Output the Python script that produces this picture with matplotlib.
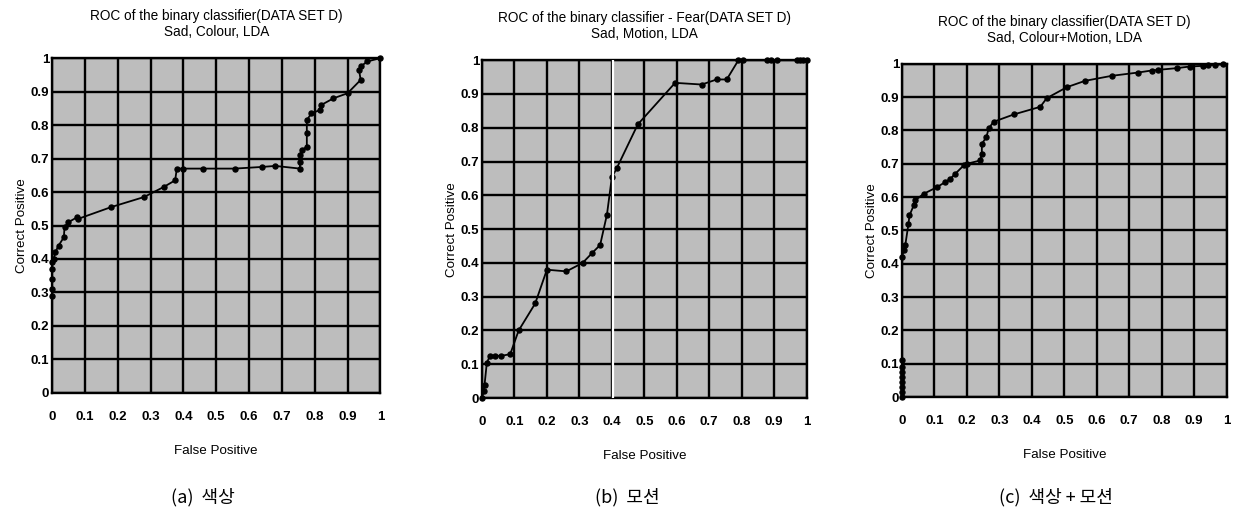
import numpy as np
import matplotlib.pyplot as plt

plt.rcParams['font.family'] = ['Liberation Sans', 'DejaVu Sans']

# Panel (a): Sad, Colour, LDA
fp_a = [0, 0, 0, 0, 0, 0.005, 0.01, 0.02, 0.036, 0.038, 0.05, 0.077, 0.08,
        0.18, 0.28, 0.34, 0.375, 0.38, 0.40, 0.46, 0.556, 0.64, 0.68,
        0.755, 0.755, 0.755, 0.76, 0.776, 0.776, 0.776, 0.79, 0.816, 0.82,
        0.857, 0.90, 0.94, 0.935, 0.94, 0.96, 1.0]
tp_a = [0.29, 0.31, 0.34, 0.37, 0.39, 0.40, 0.42, 0.44, 0.465, 0.495, 0.51, 0.525, 0.52,
        0.555, 0.585, 0.615, 0.635, 0.67, 0.67, 0.67, 0.67, 0.675, 0.678,
        0.67, 0.69, 0.71, 0.725, 0.735, 0.775, 0.815, 0.835, 0.845, 0.86,
        0.88, 0.895, 0.935, 0.965, 0.975, 0.99, 1.0]

# Panel (b): Sad, Motion, LDA
fp_b = [0, 0.005, 0.008, 0.015, 0.025, 0.04, 0.06, 0.087, 0.113, 0.164, 0.2,
        0.26, 0.31, 0.34, 0.364, 0.385, 0.40, 0.415, 0.48, 0.595, 0.677, 0.723,
        0.754, 0.79, 0.805, 0.877, 0.89, 0.908, 0.97, 0.98, 0.99, 1.0]
tp_b = [0, 0.02, 0.04, 0.105, 0.125, 0.125, 0.125, 0.13, 0.2, 0.28, 0.38,
        0.375, 0.40, 0.43, 0.453, 0.543, 0.653, 0.68, 0.81, 0.933, 0.928, 0.943,
        0.943, 1, 1, 1, 1, 1, 1, 1, 1, 1]

# Panel (c): Sad, Colour+Motion, LDA
fp_c = [0, 0, 0, 0, 0, 0, 0, 0, 0, 0.005, 0.01, 0.02, 0.023, 0.036, 0.04, 0.067,
        0.108, 0.133, 0.149, 0.164, 0.19, 0.2, 0.241, 0.246, 0.246, 0.26, 0.267,
        0.282, 0.344, 0.426, 0.446, 0.508, 0.564, 0.646, 0.728, 0.769, 0.79,
        0.846, 0.887, 0.928, 0.944, 0.964, 0.99]
tp_c = [0, 0.015, 0.03, 0.045, 0.06, 0.075, 0.09, 0.11, 0.42, 0.44, 0.455, 0.52,
        0.545, 0.575, 0.59, 0.61, 0.63, 0.645, 0.655, 0.67, 0.695, 0.70, 0.71,
        0.73, 0.76, 0.78, 0.806, 0.826, 0.848, 0.871, 0.897, 0.93, 0.949, 0.964,
        0.974, 0.98, 0.982, 0.987, 0.992, 0.994, 0.996, 0.997, 0.999]

titles = ["ROC of the binary classifier(DATA SET D)\nSad, Colour, LDA",
          "ROC of the binary classifier - Fear(DATA SET D)\nSad, Motion, LDA",
          "ROC of the binary classifier(DATA SET D)\nSad, Colour+Motion, LDA"]
captions = ["(a)  색상", "(b)  모션", "(c)  색상 + 모션"]
ticks = np.round(np.arange(0, 1.01, 0.1), 1)
tick_labels = ["0", "0.1", "0.2", "0.3", "0.4", "0.5", "0.6", "0.7", "0.8", "0.9", "1"]

fig = plt.figure(figsize=(12.39, 5.19), dpi=100)
boxes = [[0.042, 0.243, 0.265, 0.645],
         [0.389, 0.233, 0.262, 0.651],
         [0.728, 0.235, 0.262, 0.642]]
caption_x = [0.164, 0.506, 0.852]
data = [(fp_a, tp_a), (fp_b, tp_b), (fp_c, tp_c)]

for i, (box, (fp, tp)) in enumerate(zip(boxes, data)):
    ax = fig.add_axes(box)
    ax.set_facecolor('#bdbdbd')
    ax.plot(fp, tp, color='black', lw=1.3, marker='o', ms=3.6, clip_on=False, zorder=3)
    if i == 1:
        # scan artefact: white vertical stripe
        ax.axvline(0.403, color='white', lw=1.6, zorder=4)
    ax.set_xlim(0, 1)
    ax.set_ylim(0, 1)
    ax.set_xticks(ticks)
    ax.set_yticks(ticks)
    ax.set_xticklabels(tick_labels, fontsize=9.5, fontweight='bold')
    ax.set_yticklabels(tick_labels, fontsize=9.5, fontweight='bold')
    ax.tick_params(axis='x', length=0, pad=13)
    ax.tick_params(axis='y', length=0, pad=2)
    ax.grid(True, color='black', lw=1.7)
    ax.set_axisbelow(True)
    for s in ax.spines.values():
        s.set_linewidth(1.7)
    ax.set_title(titles[i], fontsize=9.8, pad=16, linespacing=1.15)
    ax.set_xlabel("False Positive", fontsize=9.6, labelpad=16)
    ax.set_ylabel("Correct Positive", fontsize=9.6, labelpad=2)
    fig.text(caption_x[i], 0.042, captions[i], ha='center', va='center',
             fontsize=13, family=['Noto Sans CJK KR', 'DejaVu Sans'])

fig.savefig("out.png", dpi=100)
